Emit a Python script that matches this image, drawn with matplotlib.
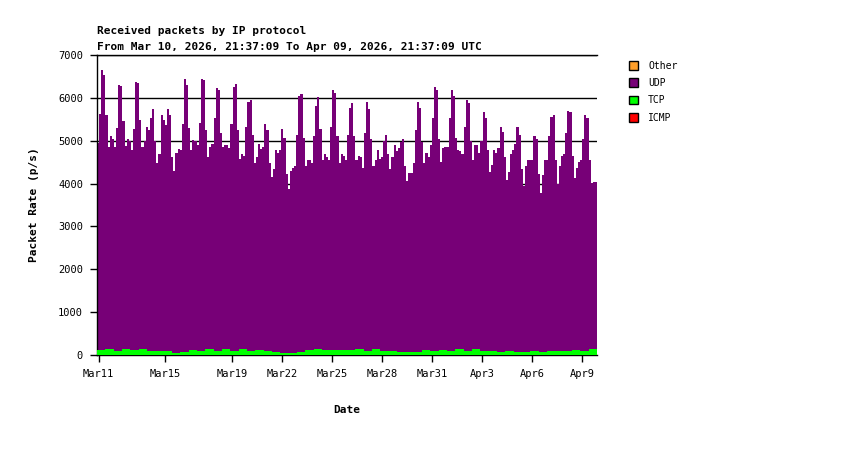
import datetime as dt
import numpy as np
import matplotlib
matplotlib.use("Agg")
import matplotlib.pyplot as plt
import matplotlib.dates as mdates
from matplotlib.patches import Patch

# time range of the report
start = dt.datetime(2026, 3, 10, 21, 37, 9)
end = dt.datetime(2026, 4, 9, 21, 37, 9)

# top of the stack (UDP + TCP), 3-hour buckets
total = [
    4950, 5635, 6640, 6545, 5590, 4855, 5100, 5050, 4855, 5300,
    6290, 6270, 5450, 4870, 5050, 5000, 4795, 5285, 6360, 6350,
    5475, 4855, 5000, 5330, 5240, 5520, 5730, 4990, 4470, 4700,
    5590, 5475, 5365, 5750, 5610, 4630, 4300, 4720, 4815, 4790,
    5400, 6450, 6310, 5300, 4790, 5020, 5000, 4900, 5410, 6430,
    6420, 5240, 4610, 4865, 4935, 5520, 6240,
    6195, 5170, 4865, 4910, 4910, 4840, 5400, 6265, 6330, 5240,
    4585, 4680, 4655, 5310, 5915, 5940, 5145, 4490, 4610, 4935,
    4800, 4865, 5400, 5240, 4490, 4165, 4330, 4775, 4725, 4775,
    5285, 5075, 4235, 3885, 4305, 4375, 4420, 5145, 6055, 6100,
    5075, 4400, 4560, 4560, 4470, 5100, 5820, 6030, 5285, 4540,
    4680, 4610, 4560, 5330, 6175, 6120, 5120, 4490, 4680,
    4640, 4560, 5145, 5775, 5870, 5100, 4540, 4655, 4610, 4375,
    5170, 5915, 5750, 5030, 4420, 4560, 4775, 4585, 4610, 5000,
    5145, 4700, 4330, 4610, 4890, 4750, 4840, 4980, 5050, 4420,
    4070, 4255, 4255, 4490, 5240, 5915, 5775, 4960, 4470, 4725,
    4630, 4890, 5540, 6265, 6195, 5050, 4515, 4820, 4865, 4865,
    5520, 6175, 6055, 5075, 4795, 4750, 4680, 5310, 5960,
    5890, 5000, 4560, 4890, 4890, 4725, 5000, 5680, 5520, 4795,
    4260, 4445, 4795, 4725, 4840, 5330, 5215, 4630, 4095, 4280,
    4700, 4775, 4935, 5330, 5145, 4330, 3955, 4420, 4540, 4540,
    4540, 5100, 5030, 4235, 3770, 4210, 4540, 4560, 5100, 5560,
    5590, 4540, 4000, 4400, 4655, 4680, 5170, 5700, 5680, 4655,
    4120, 4375, 4515, 4540, 5030, 5590, 5520, 4560, 4020, 4045, 4045,
]

# TCP, 12-hour buckets
tcp = [
    110, 140, 95, 150, 120, 140, 85, 85, 85, 45,
    80, 115, 105, 130, 90, 145, 105, 140, 95, 125,
    85, 80, 48, 48, 72, 115, 140, 120, 125, 125,
    115, 145, 105, 130, 85, 85, 80, 60, 72, 115,
    100, 120, 105, 135, 105, 130, 85, 85, 72, 90,
    80, 72, 90, 80, 98, 95, 100, 120, 95, 130,
]

tick_days = [dt.datetime(2026, 3, 11), dt.datetime(2026, 3, 15), dt.datetime(2026, 3, 19),
             dt.datetime(2026, 3, 22), dt.datetime(2026, 3, 25), dt.datetime(2026, 3, 28),
             dt.datetime(2026, 3, 31), dt.datetime(2026, 4, 3), dt.datetime(2026, 4, 6),
             dt.datetime(2026, 4, 9)]
tick_labels = ["Mar11", "Mar15", "Mar19", "Mar22", "Mar25", "Mar28",
               "Mar31", "Apr3", "Apr6", "Apr9"]

colors = {"Other": "#ff9f2a", "UDP": "#770077", "TCP": "#00ff00", "ICMP": "#ff0000"}

mono = "DejaVu Sans Mono"

fig = plt.figure(figsize=(8.5, 4.5), dpi=100)
ax = fig.add_axes([97 / 850, 95 / 450, 500 / 850, 300 / 450])

t0 = mdates.date2num(start)
t1 = mdates.date2num(end)
edges = np.linspace(t0, t1, len(total) + 1)
edges_tcp = np.linspace(t0, t1, len(tcp) + 1)

ax.stairs(total, edges, fill=True, color=colors["UDP"], baseline=0, zorder=2)
ax.stairs(tcp, edges_tcp, fill=True, color=colors["TCP"], baseline=0, zorder=3)

ax.set_xlim(t0, t1)
ax.set_ylim(0, 7000)
ax.set_yticks(range(0, 7001, 1000))
ax.yaxis.grid(True, color="black", linewidth=1)
ax.set_axisbelow(True)

ax.set_xticks([mdates.date2num(d) for d in tick_days])
ax.set_xticklabels(tick_labels)

for s in ["left", "bottom", "top"]:
    ax.spines[s].set_color("black")
    ax.spines[s].set_linewidth(1)
ax.spines["right"].set_visible(False)

ax.tick_params(axis="both", direction="out", length=5, width=1, colors="black",
               labelsize=7.5, pad=5)
for lab in ax.get_xticklabels() + ax.get_yticklabels():
    lab.set_family(mono)

ax.set_ylabel("Packet Rate (p/s)", family=mono, fontsize=8, fontweight="bold", labelpad=14)
ax.set_xlabel("Date", family=mono, fontsize=8, fontweight="bold", labelpad=19)

fig.text(97 / 850, 1 - 31 / 450, "Received packets by IP protocol", family=mono,
         fontsize=8, fontweight="bold", va="center", ha="left")
fig.text(97 / 850, 1 - 47 / 450, "From Mar 10, 2026, 21:37:09 To Apr 09, 2026, 21:37:09 UTC",
         family=mono, fontsize=8, fontweight="bold", va="center", ha="left")

handles = [Patch(facecolor=colors[k], edgecolor="black", linewidth=1, label=k)
           for k in ["Other", "UDP", "TCP", "ICMP"]]
fig.legend(handles=handles, loc="upper left", bbox_to_anchor=(620 / 850, 1 - 52 / 450),
           frameon=False, prop={"family": mono, "size": 7}, handlelength=1.0,
           handleheight=1.0, labelspacing=0.75, handletextpad=1.0)

fig.savefig("out.png", dpi=100)
